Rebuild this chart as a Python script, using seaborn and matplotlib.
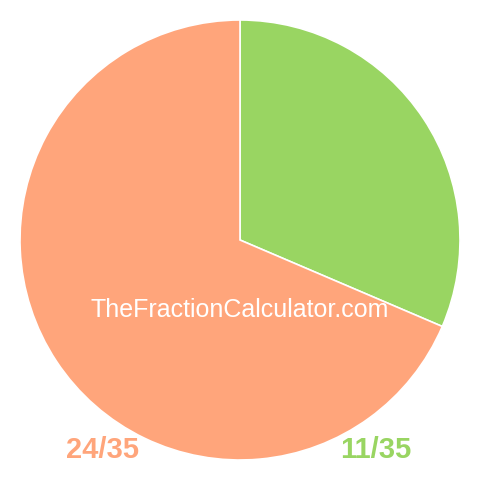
import matplotlib
matplotlib.use("Agg")
import matplotlib.pyplot as plt
import seaborn as sns

sns.set_style("white")
plt.rcParams['font.family'] = ['Liberation Sans', 'DejaVu Sans']

labels = ["11/35", "24/35"]
values = [11, 24]
colors = ["#99d562", "#ffa57b"]
watermark = "TheFractionCalculator.com"

fig = plt.figure(figsize=(4.8, 4.8), dpi=100)
ax = fig.add_axes([20/480, 20/480, 440/480, 440/480])
ax.pie(values, colors=colors, startangle=90, counterclock=False, radius=1,
       wedgeprops=dict(edgecolor="white", linewidth=1.2))
ax.set_xlim(-1, 1)
ax.set_ylim(-1, 1)
ax.set_aspect("equal")
ax.axis("off")

ax.text(0, -0.32, watermark, color="white", fontsize=18, ha="center", va="center")
ax.text(-0.623, -0.955, labels[1], color=colors[1], fontsize=21, fontweight="bold",
        ha="center", va="center", clip_on=False)
ax.text(0.618, -0.955, labels[0], color=colors[0], fontsize=21, fontweight="bold",
        ha="center", va="center", clip_on=False)

fig.savefig("out.png", dpi=100, facecolor="white")
